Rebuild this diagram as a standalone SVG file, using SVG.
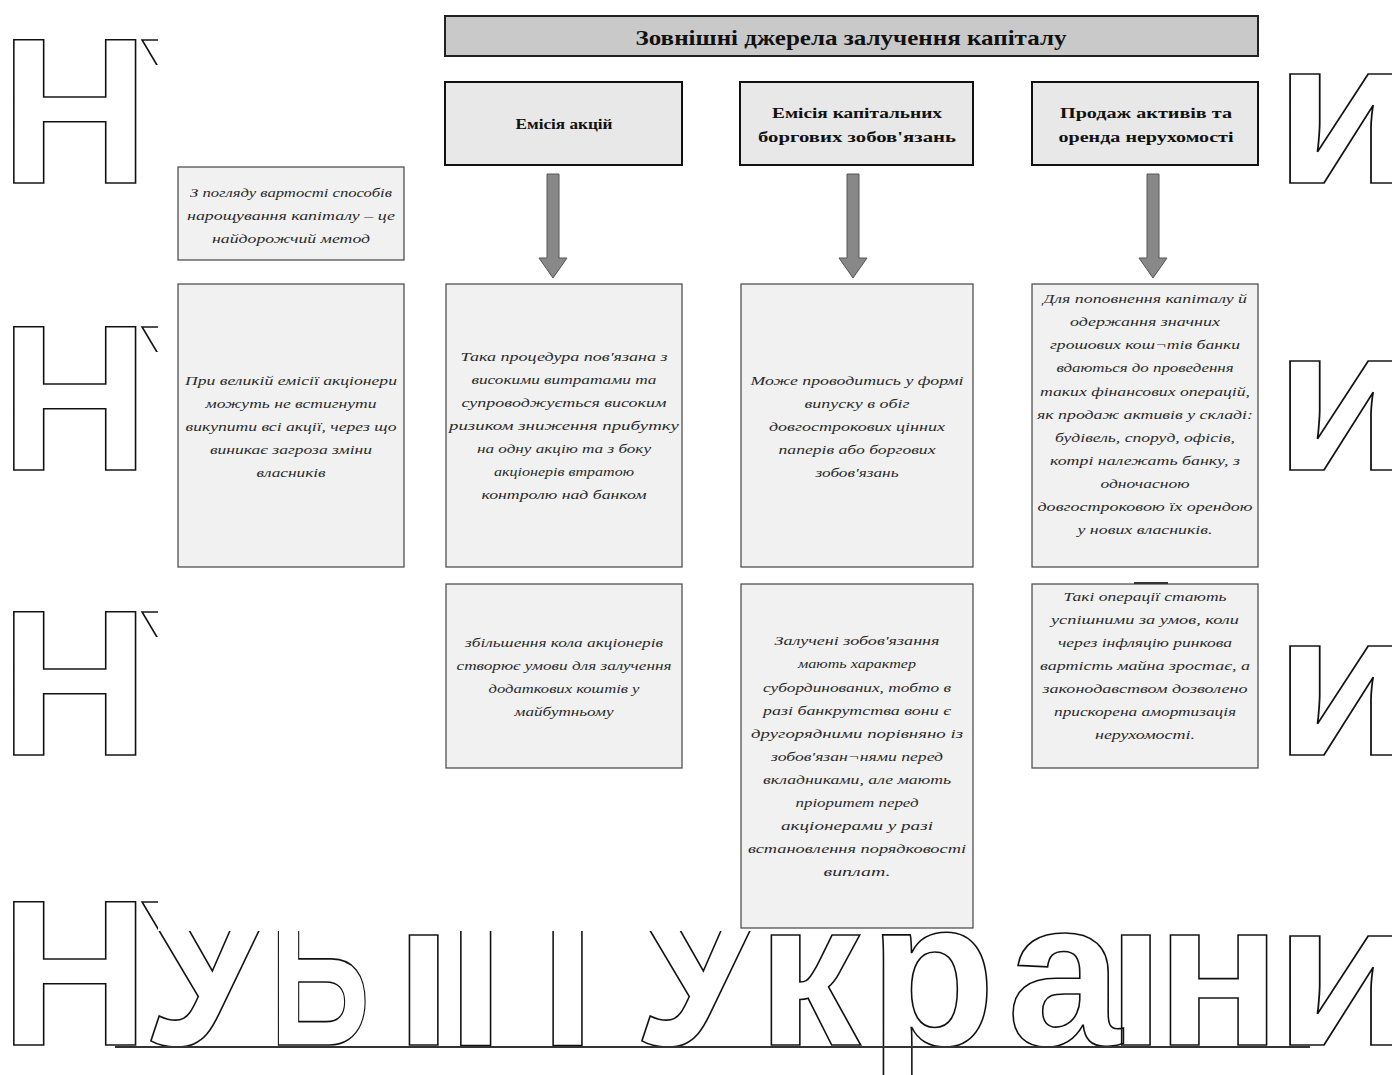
<svg xmlns="http://www.w3.org/2000/svg" width="1392" height="1075" viewBox="0 0 1392 1075">
<style>
.wm{font-family:"Liberation Sans",Arial,sans-serif;font-weight:bold;font-size:207px;fill:none;stroke:#111;stroke-width:1.6}
.ttl{fill:#c9c9c9;stroke:#222;stroke-width:2}
.hdr{fill:#e8e8e8;stroke:#111;stroke-width:2}
.box{fill:#f1f1f1;stroke:#444;stroke-width:1.2}
.t{font-family:"Liberation Serif","Times New Roman",serif;font-style:italic;font-size:13.5px;fill:#2a2a2a;text-anchor:middle}
.h{font-family:"Liberation Serif","Times New Roman",serif;font-weight:bold;font-size:15px;fill:#111;text-anchor:middle}
.tt{font-family:"Liberation Serif","Times New Roman",serif;font-weight:bold;font-size:22px;fill:#111;text-anchor:middle}
.arrow{fill:#888;stroke:#555;stroke-width:1}
.ln{stroke:#333;stroke-width:2;fill:none}
</style>
<defs>
<clipPath id="wmclip">
<rect x="0" y="0" width="141" height="1075"/>
<rect x="141" y="25" width="17" height="40"/>
<rect x="141" y="312" width="17" height="40"/>
<rect x="141" y="597" width="17" height="40"/>
<rect x="141" y="887" width="17" height="44"/>
<rect x="1283" y="0" width="109" height="1075"/>
<rect x="0" y="931" width="1392" height="144"/>
</clipPath>
</defs>
<rect width="1392" height="1075" fill="#fff"/>
<g id="watermark" clip-path="url(#wmclip)">
<text class="wm" x="0" y="183">Н</text>
<text class="wm" x="142" y="183">У</text>
<text class="wm" x="0" y="183" transform="translate(1274,0) scale(1.12,1)">и</text>
<text class="wm" x="0" y="470">Н</text>
<text class="wm" x="142" y="470">У</text>
<text class="wm" x="0" y="470" transform="translate(1274,0) scale(1.12,1)">и</text>
<text class="wm" x="0" y="755">Н</text>
<text class="wm" x="142" y="755">У</text>
<text class="wm" x="0" y="755" transform="translate(1274,0) scale(1.12,1)">и</text>
<text class="wm" x="0" y="1045">Н</text>
<text class="wm" x="142" y="1045">У</text>
<text class="wm" x="0" y="1045" transform="translate(269,0) scale(0.68,1)">Б</text>
<text class="wm" x="395" y="1045">і</text>
<text class="wm" x="447" y="1045">П</text>
<text class="wm" x="633" y="1045">У</text>
<text class="wm" x="757" y="1045">к</text>
<text class="wm" x="869" y="1045">р</text>
<text class="wm" x="1007" y="1045">а</text>
<text class="wm" x="1107" y="1045">ї</text>
<text class="wm" x="1156" y="1045">н</text>
<text class="wm" x="0" y="1045" transform="translate(1274,0) scale(1.12,1)">и</text>
</g>
<g id="footer-line">
<line class="ln" x1="115" y1="1047" x2="1310" y2="1047"/>
</g>
<g id="title">
<rect class="ttl" x="445" y="16" width="813" height="40"/>
<text class="tt" x="851" y="45" textLength="431" lengthAdjust="spacingAndGlyphs">Зовнішні джерела залучення капіталу</text>
</g>
<g id="h1">
<rect class="hdr" x="445" y="82" width="237" height="83"/>
<text class="h" x="564" y="129" textLength="97" lengthAdjust="spacingAndGlyphs">Емісія акцій</text>
</g>
<g id="h2">
<rect class="hdr" x="740" y="82" width="233" height="83"/>
<text class="h" x="857" y="118" textLength="170" lengthAdjust="spacingAndGlyphs">Емісія капітальних</text>
<text class="h" x="857" y="142" textLength="198" lengthAdjust="spacingAndGlyphs">боргових зобов'язань</text>
</g>
<g id="h3">
<rect class="hdr" x="1032" y="82" width="226" height="83"/>
<text class="h" x="1146" y="118" textLength="172" lengthAdjust="spacingAndGlyphs">Продаж активів та</text>
<text class="h" x="1146" y="142" textLength="175" lengthAdjust="spacingAndGlyphs">оренда нерухомості</text>
</g>
<g id="connectors">
<polygon class="arrow" points="547,174 559,174 559,258 567,258 553,278 539,258 547,258"/>
<polygon class="arrow" points="847,174 859,174 859,258 867,258 853,278 839,258 847,258"/>
<polygon class="arrow" points="1147,174 1159,174 1159,258 1167,258 1153,278 1139,258 1147,258"/>
</g>
<g id="note-cost">
<rect class="box" x="178" y="167" width="226" height="93"/>
<text class="t" x="291" y="197" textLength="202" lengthAdjust="spacingAndGlyphs">З погляду вартості способів</text>
<text class="t" x="291" y="220" textLength="208" lengthAdjust="spacingAndGlyphs">нарощування капіталу – це</text>
<text class="t" x="291" y="243" textLength="158" lengthAdjust="spacingAndGlyphs">найдорожчий метод</text>
</g>
<g id="note-risk">
<rect class="box" x="178" y="284" width="226" height="283"/>
<text class="t" x="291" y="385" textLength="212" lengthAdjust="spacingAndGlyphs">При великій емісії акціонери</text>
<text class="t" x="291" y="408" textLength="171" lengthAdjust="spacingAndGlyphs">можуть не встигнути</text>
<text class="t" x="291" y="431" textLength="211" lengthAdjust="spacingAndGlyphs">викупити всі акції, через що</text>
<text class="t" x="291" y="454" textLength="162" lengthAdjust="spacingAndGlyphs">виникає загроза зміни</text>
<text class="t" x="291" y="477" textLength="69" lengthAdjust="spacingAndGlyphs">власників</text>
</g>
<g id="c1-desc">
<rect class="box" x="446" y="284" width="236" height="283"/>
<text class="t" x="564" y="361" textLength="207" lengthAdjust="spacingAndGlyphs">Така процедура пов'язана з</text>
<text class="t" x="564" y="384" textLength="185" lengthAdjust="spacingAndGlyphs">високими витратами та</text>
<text class="t" x="564" y="407" textLength="205" lengthAdjust="spacingAndGlyphs">супроводжується високим</text>
<text class="t" x="564" y="430" textLength="230" lengthAdjust="spacingAndGlyphs">ризиком зниження прибутку</text>
<text class="t" x="564" y="453" textLength="174" lengthAdjust="spacingAndGlyphs">на одну акцію та з боку</text>
<text class="t" x="564" y="476" textLength="140" lengthAdjust="spacingAndGlyphs">акціонерів втратою</text>
<text class="t" x="564" y="499" textLength="165" lengthAdjust="spacingAndGlyphs">контролю над банком</text>
</g>
<g id="c2-desc">
<rect class="box" x="741" y="284" width="232" height="283"/>
<text class="t" x="857" y="385" textLength="213" lengthAdjust="spacingAndGlyphs">Може проводитись у формі</text>
<text class="t" x="857" y="408" textLength="105" lengthAdjust="spacingAndGlyphs">випуску в обіг</text>
<text class="t" x="857" y="431" textLength="176" lengthAdjust="spacingAndGlyphs">довгострокових цінних</text>
<text class="t" x="857" y="454" textLength="157" lengthAdjust="spacingAndGlyphs">паперів або боргових</text>
<text class="t" x="857" y="477" textLength="83" lengthAdjust="spacingAndGlyphs">зобов'язань</text>
</g>
<g id="c3-desc">
<rect class="box" x="1032" y="284" width="226" height="283"/>
<text class="t" x="1145" y="303" textLength="204" lengthAdjust="spacingAndGlyphs">Для поповнення капіталу й</text>
<text class="t" x="1145" y="326" textLength="150" lengthAdjust="spacingAndGlyphs">одержання значних</text>
<text class="t" x="1145" y="349" textLength="190" lengthAdjust="spacingAndGlyphs">грошових кош¬тів банки</text>
<text class="t" x="1145" y="372" textLength="177" lengthAdjust="spacingAndGlyphs">вдаються до проведення</text>
<text class="t" x="1145" y="396" textLength="210" lengthAdjust="spacingAndGlyphs">таких фінансових операцій,</text>
<text class="t" x="1145" y="419" textLength="216" lengthAdjust="spacingAndGlyphs">як продаж активів у складі:</text>
<text class="t" x="1145" y="442" textLength="180" lengthAdjust="spacingAndGlyphs">будівель, споруд, офісів,</text>
<text class="t" x="1145" y="465" textLength="190" lengthAdjust="spacingAndGlyphs">котрі належать банку, з</text>
<text class="t" x="1145" y="488" textLength="89" lengthAdjust="spacingAndGlyphs">одночасною</text>
<text class="t" x="1145" y="511" textLength="215" lengthAdjust="spacingAndGlyphs">довгостроковою їх орендою</text>
<text class="t" x="1145" y="534" textLength="135" lengthAdjust="spacingAndGlyphs">у нових власників.</text>
</g>
<g id="c1-note">
<rect class="box" x="446" y="584" width="236" height="184"/>
<text class="t" x="564" y="647" textLength="198" lengthAdjust="spacingAndGlyphs">збільшення кола акціонерів</text>
<text class="t" x="564" y="670" textLength="215" lengthAdjust="spacingAndGlyphs">створює умови для залучення</text>
<text class="t" x="564" y="693" textLength="151" lengthAdjust="spacingAndGlyphs">додаткових коштів у</text>
<text class="t" x="564" y="716" textLength="99" lengthAdjust="spacingAndGlyphs">майбутньому</text>
</g>
<g id="c2-note">
<rect class="box" x="741" y="584" width="232" height="344"/>
<text class="t" x="857" y="645" textLength="165" lengthAdjust="spacingAndGlyphs">Залучені зобов'язання</text>
<text class="t" x="857" y="668" textLength="118" lengthAdjust="spacingAndGlyphs">мають характер</text>
<text class="t" x="857" y="692" textLength="188" lengthAdjust="spacingAndGlyphs">субординованих, тобто в</text>
<text class="t" x="857" y="715" textLength="188" lengthAdjust="spacingAndGlyphs">разі банкрутства вони є</text>
<text class="t" x="857" y="738" textLength="212" lengthAdjust="spacingAndGlyphs">другорядними порівняно із</text>
<text class="t" x="857" y="761" textLength="172" lengthAdjust="spacingAndGlyphs">зобов'язан¬нями перед</text>
<text class="t" x="857" y="784" textLength="188" lengthAdjust="spacingAndGlyphs">вкладниками, але мають</text>
<text class="t" x="857" y="807" textLength="123" lengthAdjust="spacingAndGlyphs">пріоритет перед</text>
<text class="t" x="857" y="830" textLength="152" lengthAdjust="spacingAndGlyphs">акціонерами у разі</text>
<text class="t" x="857" y="853" textLength="218" lengthAdjust="spacingAndGlyphs">встановлення порядковості</text>
<text class="t" x="857" y="876" textLength="67" lengthAdjust="spacingAndGlyphs">виплат.</text>
</g>
<g id="c3-note">
<rect class="box" x="1032" y="584" width="226" height="184"/>
<line x1="1134" y1="583" x2="1168" y2="583" stroke="#333" stroke-width="2"/>
<text class="t" x="1145" y="601" textLength="163" lengthAdjust="spacingAndGlyphs">Такі операції стають</text>
<text class="t" x="1145" y="624" textLength="188" lengthAdjust="spacingAndGlyphs">успішними за умов, коли</text>
<text class="t" x="1145" y="647" textLength="174" lengthAdjust="spacingAndGlyphs">через інфляцію ринкова</text>
<text class="t" x="1145" y="670" textLength="210" lengthAdjust="spacingAndGlyphs">вартість майна зростає, а</text>
<text class="t" x="1145" y="693" textLength="205" lengthAdjust="spacingAndGlyphs">законодавством дозволено</text>
<text class="t" x="1145" y="716" textLength="182" lengthAdjust="spacingAndGlyphs">прискорена амортизація</text>
<text class="t" x="1145" y="739" textLength="100" lengthAdjust="spacingAndGlyphs">нерухомості.</text>
</g>
</svg>
